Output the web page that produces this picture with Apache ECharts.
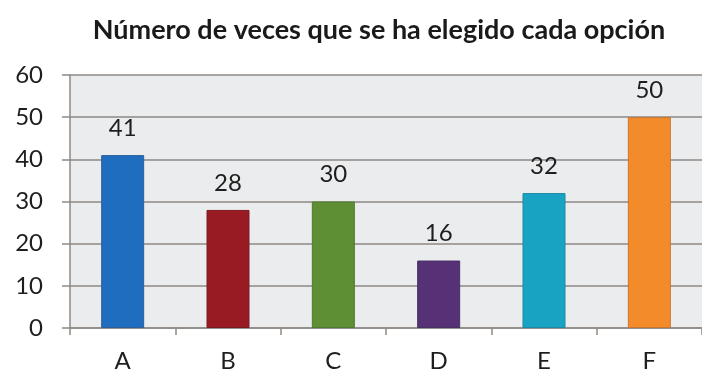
<!DOCTYPE html>
<html>
<head>
<meta charset="utf-8">
<script src="https://cdn.jsdelivr.net/npm/echarts@6/dist/echarts.min.js"></script>
<style>
  html, body { margin: 0; padding: 0; background: #ffffff; }
  #chart { width: 702px; height: 374px; }
</style>
</head>
<body>
<div id="chart"></div>
<script>
// Options shown on the horizontal axis
const categories = ['A', 'B', 'C', 'D', 'E', 'F'];
// How many times each option was chosen
const counts = [41, 28, 30, 16, 32, 50];
// Fill colour of each bar
const barColors = ['#1f6dbf', '#981b24', '#5f8f34', '#563175', '#19a3c3', '#f38b2b'];
const barBorders = ['#2c5f9b', '#7c1a22', '#4f7a2e', '#473066', '#1b8aa5', '#c9762e'];
// Value axis scale
const yMin = 0, yMax = 60, yStep = 10;

const FONT = 'Lato';
const chart = echarts.init(document.getElementById('chart'), null, { renderer: 'canvas' });

chart.setOption({
  backgroundColor: '#ffffff',
  animation: false,
  title: {
    text: 'Número de veces que se ha elegido cada opción',
    left: 374,
    textAlign: 'center',
    top: 12,
    textStyle: { fontFamily: FONT, fontSize: 27, fontWeight: 'bold', color: '#1a1a1a' }
  },
  grid: {
    left: 70, top: 75, width: 639, height: 253,
    show: true, backgroundColor: '#ebecee', borderWidth: 0
  },
  xAxis: {
    type: 'category',
    data: categories,
    axisLine: { lineStyle: { color: '#8e8984', width: 1.5 } },
    axisTick: { show: true, alignWithLabel: false, length: 7, lineStyle: { color: '#8e8984', width: 1.5 } },
    axisLabel: { fontFamily: FONT, fontSize: 24, color: '#1e1e1e', margin: 21 }
  },
  yAxis: {
    type: 'value',
    min: yMin, max: yMax, interval: yStep,
    axisLine: { show: true, lineStyle: { color: '#8e8984', width: 1.5 } },
    axisTick: { show: true, length: 8, lineStyle: { color: '#8e8984', width: 1.5 } },
    splitLine: { lineStyle: { color: '#8e8984', width: 1.5 } },
    axisLabel: { fontFamily: FONT, fontSize: 24, color: '#1e1e1e', margin: 27 }
  },
  series: [{
    type: 'bar',
    data: counts.map((v, i) => ({
      value: v,
      itemStyle: { color: barColors[i], borderColor: barBorders[i], borderWidth: 1 }
    })),
    barWidth: 43,
    label: {
      show: true, position: 'top', distance: 15,
      fontFamily: FONT, fontSize: 24, color: '#1e1e1e'
    }
  }]
});
</script>
</body>
</html>
